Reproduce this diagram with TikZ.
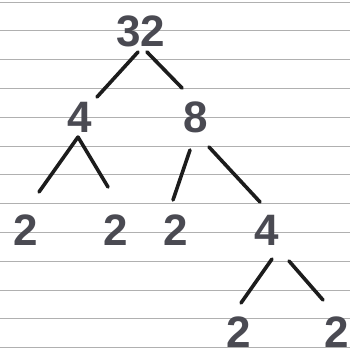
\documentclass[tikz,border=0pt]{standalone}
\usepackage{fontspec}
\setmainfont{Liberation Sans}
\usetikzlibrary{calc}
\definecolor{ink}{HTML}{4A4A52}
\definecolor{pen}{HTML}{1C1C1C}
\definecolor{rulecol}{HTML}{B0B0B0}
\begin{document}
\begin{tikzpicture}[x=1pt,y=-1pt,
  num/.style={anchor=base,inner sep=0pt,text=ink,font=\fontsize{44}{44}\selectfont\bfseries},
  branch/.style={draw=pen,line width=3.6pt,line cap=round},
  paper/.style={draw=rulecol,line width=0.9pt}]
\useasboundingbox[fill=white] (0,0) rectangle (350,356);
\foreach \k in {0,...,12} \draw[paper] (0,{2+28.8*\k}) -- (350,{2+28.8*\k});
% numbers
\node[num] (n32) at (141,46) {32};
\node[num] (n4) at (80,132) {4};
\node[num] (n8) at (196,132) {8};
\node[num] (a2) at (26,245) {2};
\node[num] (b2) at (116,245) {2};
\node[num] (c2) at (176,245) {2};
\node[num] (m4) at (267,245) {4};
\node[num] (d2) at (239,347) {2};
\node[num] (e2) at (337,347) {2};
% branches
\draw[branch] ($(n32.base)+(-3,6)$) -- ($(n4.base)+(17,-35)$);
\draw[branch] ($(n32.base)+(6,6)$) -- ($(n8.base)+(-14,-44)$);
\draw[branch] ($(n4.base)+(-2,5)$) -- ($(a2.base)+(13,-53)$);
\draw[branch] ($(n4.base)+(-2,5)$) -- ($(b2.base)+(-8,-58)$);
\draw[branch] ($(n8.base)+(-6,18)$) -- ($(c2.base)+(-3,-45)$);
\draw[branch] ($(n8.base)+(13,15)$) -- ($(m4.base)+(-7,-43)$);
\draw[branch] ($(m4.base)+(5,14)$) -- ($(d2.base)+(2,-44)$);
\draw[branch] ($(m4.base)+(22,16)$) -- ($(e2.base)+(-14,-47)$);
\end{tikzpicture}
\end{document}
